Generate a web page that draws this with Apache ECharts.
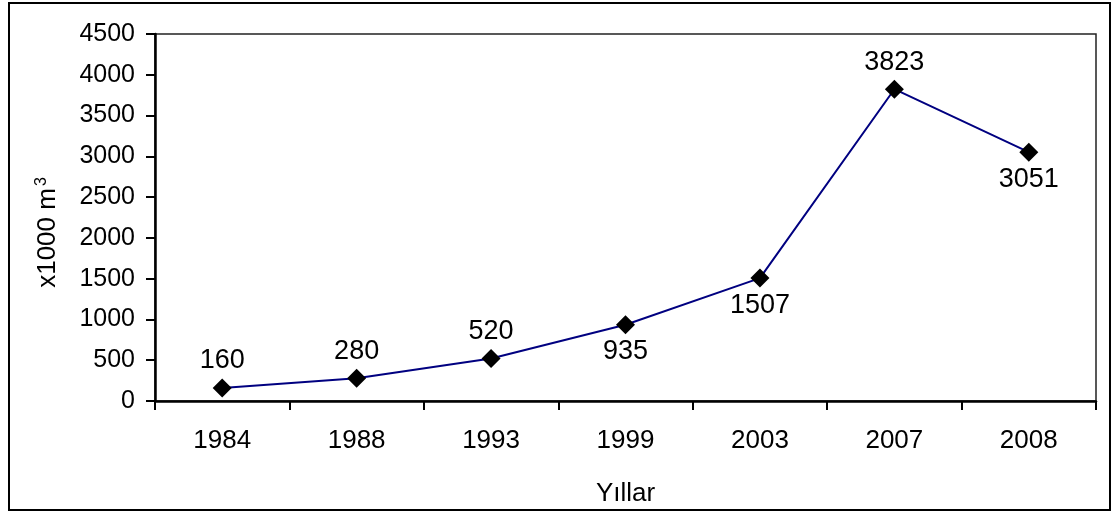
<!DOCTYPE html>
<html>
<head>
<meta charset="utf-8">
<script src="https://cdn.jsdelivr.net/npm/echarts@6/dist/echarts.min.js"></script>
<style>
html,body{margin:0;padding:0;background:#fff;}
#chart{width:1117px;height:512px;}
</style>
</head>
<body>
<div id="chart"></div>
<script>
const categories = ['1984','1988','1993','1999','2003','2007','2008'];
const values = [160, 280, 520, 935, 1507, 3823, 3051];
const labelPositions = ['top','top','top','bottom','bottom','top','bottom'];
const yAxisTitle = 'x1000 m';
const xAxisTitle = 'Yıllar';

const FONT = '"Liberation Sans", Arial, sans-serif';
const chart = echarts.init(document.getElementById('chart'), null, {renderer:'canvas'});
chart.setOption({
  animation: false,
  backgroundColor: '#fff',
  textStyle: {fontFamily: FONT},
  graphic: [{
    type: 'rect', silent: true, z: -1,
    shape: {x: 9, y: 3, width: 1101, height: 507},
    style: {fill: 'none', stroke: '#000', lineWidth: 2}
  }],
  grid: {left: 155, right: 21, top: 34, bottom: 109, show: true, borderColor: '#222', borderWidth: 1.5, containLabel: false},
  xAxis: {
    type: 'category', data: categories, boundaryGap: true,
    name: xAxisTitle, nameLocation: 'middle', nameGap: 80,
    nameTextStyle: {fontSize: 26, color: '#000', fontFamily: FONT},
    axisLine: {lineStyle: {color: '#000', width: 2.5}},
    axisTick: {show: true, length: 9, lineStyle: {color: '#000', width: 2}, alignWithLabel: false},
    axisLabel: {fontSize: 26, color: '#000', margin: 27, fontFamily: FONT},
    splitLine: {show: false}
  },
  yAxis: {
    type: 'value', min: 0, max: 4500, interval: 500,
    name: '{b|' + yAxisTitle + '}{s|3}', nameLocation: 'middle', nameGap: 93, nameRotate: 90,
    nameTextStyle: {fontSize: 26, color: '#000', fontFamily: FONT, padding: [0, 30, 0, 0],
      rich: {b: {fontSize: 26, color: '#000', fontFamily: FONT}, s: {fontSize: 16, color: '#000', fontFamily: FONT, verticalAlign: 'top', padding: [0,0,12,2]}}},
    axisLine: {show: true, lineStyle: {color: '#000', width: 2.5}},
    axisTick: {show: true, length: 9, lineStyle: {color: '#000', width: 2}},
    axisLabel: {fontSize: 25, color: '#000', margin: 20, fontFamily: FONT, formatter: v => String(v)},
    splitLine: {show: false}
  },
  series: [{
    type: 'line',
    data: values.map((v, i) => ({value: v, label: {position: labelPositions[i]}})),
    lineStyle: {color: '#000080', width: 2},
    symbol: 'diamond', symbolSize: 19,
    itemStyle: {color: '#000', borderWidth: 0},
    label: {show: true, fontSize: 27, color: '#000', distance: 4, fontFamily: FONT}
  }]
});
</script>
</body>
</html>
